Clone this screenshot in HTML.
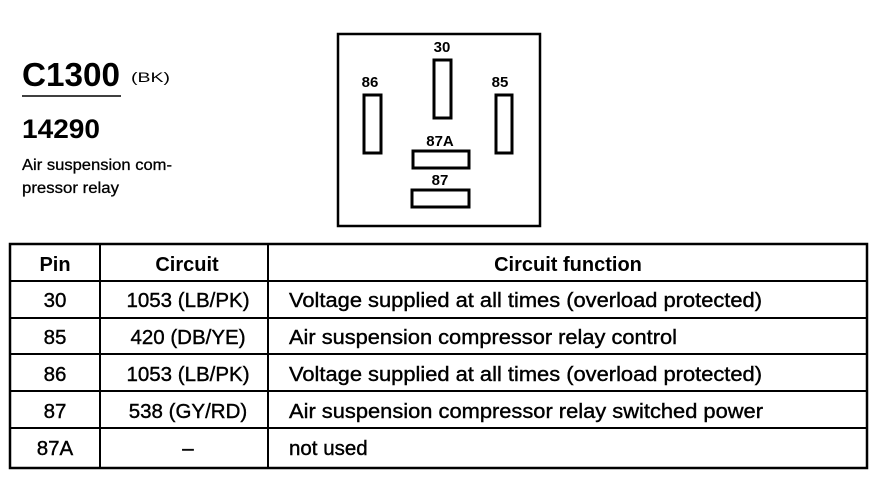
<!DOCTYPE html>
<html><head><meta charset="utf-8"><style>
html,body{margin:0;padding:0;background:#fff;}
svg{display:block;font-family:"Liberation Sans",Arial,sans-serif;}
</style></head><body>
<svg width="880" height="480" viewBox="0 0 880 480" xmlns="http://www.w3.org/2000/svg">
<rect width="880" height="480" fill="#fff"/>
<text x="22" y="86" font-size="33" font-weight="bold" textLength="98" lengthAdjust="spacingAndGlyphs">C1300</text>
<text x="131" y="82" font-size="14" textLength="39" lengthAdjust="spacingAndGlyphs">(BK)</text>
<line x1="22" y1="96" x2="121" y2="96" stroke="#000" stroke-width="1.5"/>
<text x="22" y="138" font-size="27" font-weight="bold" textLength="78" lengthAdjust="spacingAndGlyphs">14290</text>
<g stroke="#000" stroke-width="0.3">
<text x="22" y="170" font-size="16" textLength="150" lengthAdjust="spacingAndGlyphs">Air suspension com-</text>
<text x="22" y="193" font-size="16" textLength="97" lengthAdjust="spacingAndGlyphs">pressor relay</text>
</g>

<g fill="none" stroke="#000" stroke-width="3">
<rect x="338" y="34" width="202" height="192" stroke-width="2.5"/>
<rect x="434" y="60" width="17" height="58"/>
<rect x="364" y="95" width="17" height="58"/>
<rect x="496" y="95" width="16" height="58"/>
<rect x="413" y="151" width="56" height="17"/>
<rect x="412" y="190" width="57" height="17"/>
</g>
<g font-size="15" font-weight="bold" text-anchor="middle">
<text x="442" y="52">30</text>
<text x="370" y="87">86</text>
<text x="500" y="87">85</text>
<text x="440" y="146">87A</text>
<text x="440" y="185">87</text>
</g>

<g stroke="#000" fill="none">
<rect x="10" y="244" width="857" height="224" stroke-width="2.5"/>
<line x1="100" y1="244" x2="100" y2="468" stroke-width="2"/>
<line x1="268" y1="244" x2="268" y2="468" stroke-width="2"/>
<line x1="10" y1="281" x2="867" y2="281" stroke-width="2"/>
<line x1="10" y1="318" x2="867" y2="318" stroke-width="2"/>
<line x1="10" y1="354" x2="867" y2="354" stroke-width="2"/>
<line x1="10" y1="391" x2="867" y2="391" stroke-width="2"/>
<line x1="10" y1="428" x2="867" y2="428" stroke-width="2"/>
</g>
<g font-size="20" font-weight="bold" text-anchor="middle">
<text x="55" y="271">Pin</text>
<text x="187" y="271">Circuit</text>
<text x="568" y="271">Circuit function</text>
</g>
<g font-size="20.5" text-anchor="middle" stroke="#000" stroke-width="0.4">
<text x="55" y="307">30</text>
<text x="188" y="307">1053 (LB/PK)</text>
<text x="55" y="344">85</text>
<text x="188" y="344">420 (DB/YE)</text>
<text x="55" y="381">86</text>
<text x="188" y="381">1053 (LB/PK)</text>
<text x="55" y="418">87</text>
<text x="188" y="418">538 (GY/RD)</text>
<text x="55" y="455">87A</text>
<text x="188" y="455">–</text>
</g>
<g font-size="20.5" stroke="#000" stroke-width="0.4" lengthAdjust="spacingAndGlyphs">
<text x="289" y="307" textLength="473" lengthAdjust="spacingAndGlyphs">Voltage supplied at all times (overload protected)</text>
<text x="289" y="344" textLength="388" lengthAdjust="spacingAndGlyphs">Air suspension compressor relay control</text>
<text x="289" y="381" textLength="473" lengthAdjust="spacingAndGlyphs">Voltage supplied at all times (overload protected)</text>
<text x="289" y="418" textLength="474" lengthAdjust="spacingAndGlyphs">Air suspension compressor relay switched power</text>
<text x="289" y="455">not used</text>
</g>
</svg>
</body></html>
